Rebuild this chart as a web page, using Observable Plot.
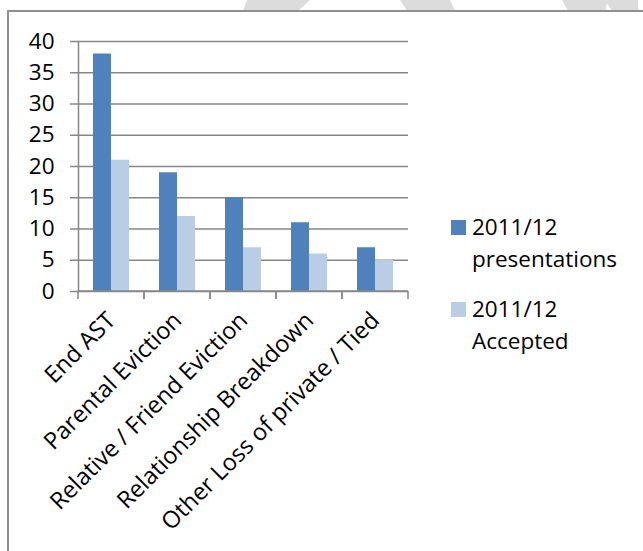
<!DOCTYPE html>
<html>
<head>
<meta charset="utf-8">
<script src="https://cdn.jsdelivr.net/npm/d3@7"></script>
<script src="https://cdn.jsdelivr.net/npm/@observablehq/plot@0.6"></script>
<style>
  body { margin: 0; background: #fff; }
  #wrap { position: relative; width: 643px; height: 551px; overflow: hidden; font-family: "Open Sans", sans-serif; }
  .wm { position: absolute; top: 0; height: 11px; background: #dcdcdc; }
  #frame { position: absolute; left: 7px; top: 10px; width: 700px; height: 600px; border-top: 2px solid #8f8f8f; border-left: 2px solid #8f8f8f; background: #fff; }
  #chart { position: absolute; left: 0; top: 0; }
  .entry { position: absolute; left: 451px; font-size: 22.5px; line-height: 32px; color: #000; }
  .entry .sw { position: absolute; left: 0; width: 15px; height: 15px; top: 9px; }
  .entry .txt { position: absolute; left: 21px; white-space: nowrap; }
</style>
</head>
<body>
<div id="wrap">
  <div class="wm" style="left:243px;width:67px;clip-path:polygon(6% 0,100% 0,82% 100%,0 100%);"></div>
  <div class="wm" style="left:400px;width:55px;clip-path:polygon(0 0,91% 0,100% 100%,13% 100%);"></div>
  <div class="wm" style="left:562px;width:76px;clip-path:polygon(0 0,100% 0,100% 100%,66% 100%,59% 30%,57% 100%,8% 100%);"></div>
  <div id="frame"></div>
  <div id="chart"></div>
  <div id="legend"></div>
</div>
<script>
// ---- data ----
const categories = ["End AST", "Parental Eviction", "Relative / Friend Eviction", "Relationship Breakdown", "Other Loss of private / Tied"];
const presentations = [38, 19, 15, 11, 7];
const accepted = [21, 12, 7, 6, 5];
const seriesNames = ["2011/12 presentations", "2011/12 Accepted"];
const legendLines = [["2011/12", "presentations"], ["2011/12", "Accepted"]];
const yTicks = [0, 5, 10, 15, 20, 25, 30, 35, 40];
const colors = ["#4f81bd", "#b9cde5"];

const rows = categories.flatMap((c, i) => [
  {cat: c, series: seriesNames[0], value: presentations[i]},
  {cat: c, series: seriesNames[1], value: accepted[i]}
]);

const lineColor = "#878787";

// category boundary ticks and baseline, drawn per facet from the frame dimensions
function categoryTicks(index, scales, values, dims) {
  const g = d3.create("svg:g").attr("stroke", lineColor).attr("stroke-width", 1.5);
  const y0 = dims.height - dims.marginBottom;
  const xl = dims.marginLeft, xr = dims.width - dims.marginRight;
  g.append("line").attr("x1", xl).attr("x2", xr).attr("y1", y0).attr("y2", y0);
  g.append("line").attr("x1", xl).attr("x2", xl).attr("y1", y0).attr("y2", y0 + 8);
  g.append("line").attr("x1", xr).attr("x2", xr).attr("y1", y0).attr("y2", y0 + 8);
  return g.node();
}

const chart = Plot.plot({
  width: 643,
  height: 551,
  marginLeft: 77,
  marginRight: 235,
  marginTop: 41,
  marginBottom: 260,
  style: {background: "transparent", fontFamily: "'Open Sans', sans-serif", fontSize: "22px", color: "#000", overflow: "visible"},
  fx: {domain: categories, padding: 0, label: null},
  x: {domain: seriesNames, paddingInner: 0, paddingOuter: 0.74, axis: null},
  y: {domain: [0, 40], label: null},
  color: {domain: seriesNames, range: colors},
  marks: [
    Plot.gridY(yTicks, {stroke: lineColor, strokeOpacity: 1, strokeWidth: 1.5}),
    Plot.barY(rows, {fx: "cat", x: "series", y: "value", fill: "series"}),
    Plot.frame({anchor: "left", facetAnchor: "left", stroke: lineColor, strokeWidth: 1.5}),
    categoryTicks,
    Plot.axisY(yTicks, {anchor: "left", tickSize: 8, tickPadding: 16, stroke: lineColor, strokeWidth: 1.5, fill: "#000", label: null, fontSize: 22.5}),
    Plot.axisFx({anchor: "bottom", tickSize: 0, tickPadding: 25, tickRotate: -45, fill: "#000", label: null, fontSize: 23.5})
  ]
});
document.getElementById("chart").appendChild(chart);

// legend
const legend = document.getElementById("legend");
const tops = [211, 293];
seriesNames.forEach((s, i) => {
  const e = document.createElement("div");
  e.className = "entry";
  e.style.top = tops[i] + "px";
  const sw = document.createElement("div");
  sw.className = "sw";
  sw.style.background = colors[i];
  const t = document.createElement("div");
  t.className = "txt";
  t.innerHTML = legendLines[i].join("<br>");
  e.appendChild(sw); e.appendChild(t);
  legend.appendChild(e);
});
</script>
</body>
</html>
